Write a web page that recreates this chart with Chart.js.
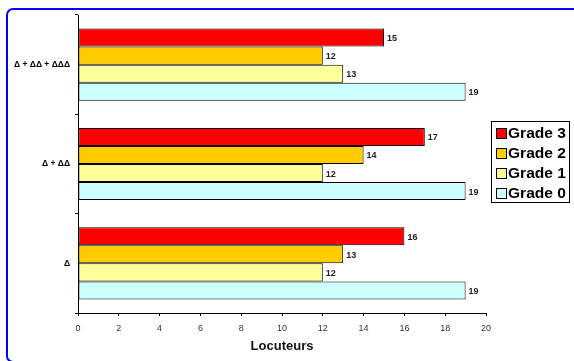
<!DOCTYPE html>
<html>
<head>
<meta charset="utf-8">
<script src="https://cdn.jsdelivr.net/npm/chart.js@4"></script>
<style>
  html, body { margin: 0; padding: 0; background: #fff; }
  #wrap { position: relative; width: 574px; height: 361px; overflow: hidden; }
  #frame {
    position: absolute; left: 6px; top: 8px; width: 600px; height: 351px;
    border: 2px solid #0000ff; border-radius: 7px;
  }
  #chart { position: absolute; left: 0; top: 0; }
</style>
</head>
<body>
<div id="wrap">
  <div id="frame"></div>
  <canvas id="chart" width="574" height="361"></canvas>
</div>
<script>
// categories, top to bottom
const categories = ['Δ + ΔΔ + ΔΔΔ', 'Δ + ΔΔ', 'Δ'];
const seriesNames = ['Grade 3', 'Grade 2', 'Grade 1', 'Grade 0'];
const grade3 = [15, 17, 16];
const grade2 = [12, 14, 13];
const grade1 = [13, 12, 12];
const grade0 = [19, 19, 19];
const xTicks = [0, 2, 4, 6, 8, 10, 12, 14, 16, 18, 20];

const colors = ['#ff0000', '#ffcc00', '#ffff99', '#ccffff'];
const values = [grade3, grade2, grade1, grade0];
const FONT = 'Arial, "Liberation Sans", sans-serif';

// value labels at the end of each bar
const barLabels = {
    id: 'barLabels',
    afterDatasetsDraw(chart) {
        const ctx = chart.ctx;
        ctx.save();
        ctx.font = 'bold 9px ' + FONT;
        ctx.fillStyle = '#222';
        ctx.textBaseline = 'middle';
        ctx.textAlign = 'left';
        chart.data.datasets.forEach((ds, i) => {
            chart.getDatasetMeta(i).data.forEach((bar, j) => {
                ctx.fillText(ds.data[j], bar.x + 3, bar.y + 1);
            });
        });
        ctx.restore();
    }
};

// boxed legend on the right
const boxLegend = {
    id: 'boxLegend',
    afterDraw(chart) {
        const ctx = chart.ctx;
        const x = 491, y = 121, w = 78, h = 81;
        ctx.save();
        ctx.fillStyle = '#fff';
        ctx.fillRect(x, y, w, h);
        ctx.strokeStyle = '#000';
        ctx.lineWidth = 1;
        ctx.strokeRect(x + 0.5, y + 0.5, w, h);
        ctx.font = 'bold 14px ' + FONT;
        ctx.textBaseline = 'middle';
        chart.data.datasets.forEach((ds, i) => {
            const cy = y + 12 + i * 20;
            ctx.fillStyle = ds.backgroundColor;
            ctx.fillRect(x + 5, cy - 5, 11, 11);
            ctx.strokeRect(x + 5.5, cy - 4.5, 10, 10);
            ctx.fillStyle = '#000';
            const tw = ctx.measureText(ds.label).width;
            ctx.save();
            ctx.translate(x + 17, cy + 1);
            ctx.scale(58 / tw, 1);
            ctx.fillText(ds.label, 0, 0);
            ctx.restore();
        });
        ctx.restore();
    }
};

new Chart(document.getElementById('chart'), {
    type: 'bar',
    data: {
        labels: categories,
        datasets: seriesNames.map((name, i) => ({
            label: name,
            data: values[i],
            backgroundColor: colors[i],
            borderColor: '#000',
            borderWidth: 1,
            borderSkipped: false,
            categoryPercentage: 0.727,
            barPercentage: 1
        }))
    },
    options: {
        indexAxis: 'y',
        responsive: false,
        animation: false,
        layout: { padding: { left: 0, right: 88, top: 15, bottom: 0 } },
        plugins: {
            legend: { display: false },
            tooltip: { enabled: false }
        },
        scales: {
            x: {
                min: 0,
                max: 20,
                afterBuildTicks(scale) { scale.ticks = xTicks.map(v => ({ value: v })); },
                afterFit(scale) { scale.height = 48; },
                grid: { display: true, drawOnChartArea: false, drawTicks: true, tickLength: 3, color: '#000' },
                border: { display: true, color: '#000', width: 1 },
                ticks: {
                    color: '#333',
                    font: { family: FONT, size: 9 },
                    padding: 7,
                    maxRotation: 0
                },
                title: {
                    display: true,
                    text: 'Locuteurs',
                    color: '#111',
                    font: { family: FONT, size: 13, weight: 'bold' },
                    padding: { top: 4, bottom: 7 }
                }
            },
            y: {
                afterFit(scale) { scale.width = 78; },
                grid: { display: true, drawOnChartArea: false, offset: true, tickLength: 3, color: '#000' },
                border: { display: true, color: '#000', width: 1 },
                ticks: {
                    color: '#000',
                    font: { family: FONT, size: 8.5, weight: 'bold' },
                    padding: 5
                }
            }
        }
    },
    plugins: [barLabels, boxLegend]
});
</script>
</body>
</html>
